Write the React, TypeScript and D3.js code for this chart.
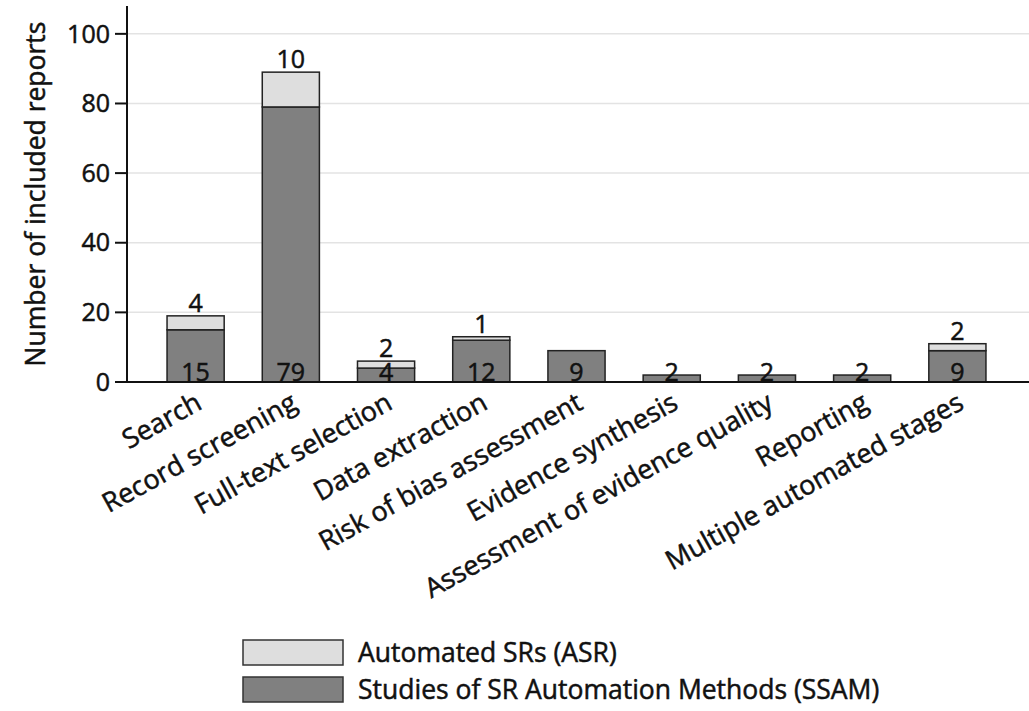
import { useMemo } from 'react';
import * as d3 from 'd3';

const categories = [
  "Search",
  "Record screening",
  "Full-text selection",
  "Data extraction",
  "Risk of bias assessment",
  "Evidence synthesis",
  "Assessment of evidence quality",
  "Reporting",
  "Multiple automated stages",
];
const ssamValues = [15, 79, 4, 12, 9, 2, 2, 2, 9];
const asrValues = [4, 10, 2, 1, 0, 0, 0, 0, 2];
const yTicks = [0, 20, 40, 60, 80, 100];
const legendItems = [
  { label: "Automated SRs (ASR)", color: "#dedede" },
  { label: "Studies of SR Automation Methods (SSAM)", color: "#808080" },
];

const W = 1029;
const H = 711;
const FONT = "'Open Sans', sans-serif";
const INK = "#111";

export default function App() {
  const x = useMemo(
    () => d3.scaleBand<string>().domain(categories).range([148, 1005]).paddingInner(0.4).paddingOuter(0.2),
    []
  );
  const y = useMemo(() => d3.scaleLinear().domain([0, 108]).range([382, 6]), []);
  const axisX = 127;
  // slight stroke thickens glyphs like the blurred original
  const txt = { fill: INK, stroke: INK, strokeWidth: 0.5 };

  return (
    <svg width={W} height={H} style={{ position: 'absolute', left: 0, top: 0, background: '#fff' }} fontFamily={FONT}>
      {/* gridlines */}
      {yTicks.filter(t => t > 0).map(t => (
        <line key={t} x1={axisX} x2={W} y1={y(t)} y2={y(t)} stroke="#e3e3e3" strokeWidth={1.5} />
      ))}

      {/* bars */}
      {categories.map((c, i) => {
        const x0 = x(c)!;
        const bw = x.bandwidth();
        const s = ssamValues[i];
        const a = asrValues[i];
        return (
          <g key={c}>
            <rect x={x0} y={y(s)} width={bw} height={y(0) - y(s)} fill="#808080" stroke="#222" strokeWidth={1.5} />
            {a > 0 && (
              <rect x={x0} y={y(s + a)} width={bw} height={y(s) - y(s + a)} fill="#dedede" stroke="#222" strokeWidth={1.5} />
            )}
          </g>
        );
      })}

      {/* axes */}
      <line x1={axisX} x2={axisX} y1={6} y2={y(0)} stroke={INK} strokeWidth={2} />
      <line x1={115} x2={W} y1={y(0)} y2={y(0)} stroke={INK} strokeWidth={2} />
      {yTicks.map(t => (
        <g key={t}>
          <line x1={115} x2={axisX} y1={y(t)} y2={y(t)} stroke={INK} strokeWidth={2} />
          <text x={110} y={y(t)} dy="0.35em" textAnchor="end" fontSize={25} {...txt}>{t}</text>
        </g>
      ))}

      {/* value labels */}
      {categories.map((c, i) => {
        const cx = x(c)! + x.bandwidth() / 2;
        const s = ssamValues[i];
        const a = asrValues[i];
        return (
          <g key={c} fontSize={25} textAnchor="middle">
            {a > 0 && <text x={cx} y={y(s + a) - 4} {...txt}>{a}</text>}
            <text x={cx} y={y(0) - 1} {...txt}>{s}</text>
          </g>
        );
      })}

      {/* x tick labels */}
      {categories.map(c => {
        const cx = x(c)! + x.bandwidth() / 2;
        return (
          <text key={c} transform={`translate(${cx + 8},408) rotate(-29)`} textAnchor="end"
            fontSize={27} {...txt}>{c}</text>
        );
      })}

      {/* y title */}
      <text transform={`translate(45,${(6 + 382) / 2}) rotate(-90)`} textAnchor="middle" fontSize={26.5} {...txt}>
        Number of included reports
      </text>

      {/* legend */}
      {legendItems.map((d, i) => (
        <g key={d.label} transform={`translate(243,${640 + i * 37})`}>
          <rect width={100} height={25} fill={d.color} stroke="#333" strokeWidth={1.5} />
          <text x={115} y={12.5} dy="0.35em" fontSize={26.5} {...txt}>{d.label}</text>
        </g>
      ))}
    </svg>
  );
}
